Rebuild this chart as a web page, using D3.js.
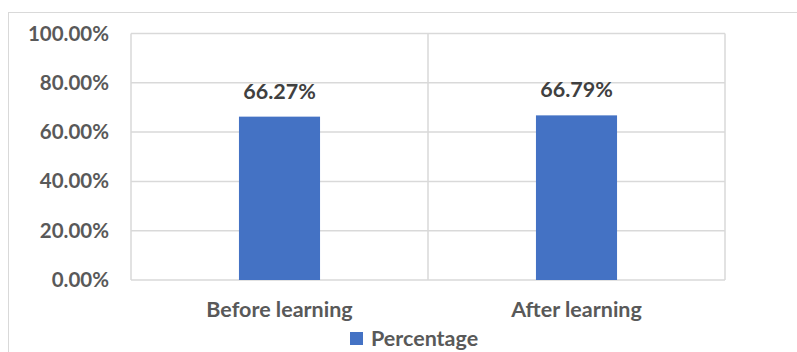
<!DOCTYPE html>
<html>
<head>
<meta charset="utf-8">
<script src="https://cdn.jsdelivr.net/npm/d3@7"></script>
<style>
  body { margin: 0; background: #fff; }
  text { font-family: Lato, "Open Sans", sans-serif; font-weight: bold; }
</style>
</head>
<body>
<div id="chart"></div>
<script>
var categories = ["Before learning", "After learning"];
var percentages = [66.27, 66.79];
var yTicks = [0, 20, 40, 60, 80, 100];
var seriesName = "Percentage";

var width = 797, height = 352;
var margin = {top: 33.5, right: 72, bottom: 72, left: 131};

var svg = d3.select("#chart").append("svg")
    .attr("width", width)
    .attr("height", height);

// outer chart border
svg.append("rect")
    .attr("x", 8.5).attr("y", 12.5)
    .attr("width", width + 10).attr("height", height + 10)
    .attr("fill", "none")
    .attr("stroke", "#d9d9d9");

var x = d3.scaleBand()
    .domain(categories)
    .range([margin.left, width - margin.right]);

var y = d3.scaleLinear()
    .domain([0, 100])
    .range([height - margin.bottom, margin.top]);

// gridlines
svg.selectAll("line.grid")
    .data(yTicks)
    .enter()
    .append("line")
    .attr("class", "grid")
    .attr("x1", margin.left).attr("x2", width - margin.right)
    .attr("y1", d => y(d)).attr("y2", d => y(d))
    .attr("stroke", "#d9d9d9")
    .attr("stroke-width", 1.5);

// vertical lines at category edges
var edges = [margin.left, x(categories[1]), width - margin.right];
svg.selectAll("line.vgrid")
    .data(edges)
    .enter()
    .append("line")
    .attr("class", "vgrid")
    .attr("x1", d => d).attr("x2", d => d)
    .attr("y1", y(100)).attr("y2", y(0))
    .attr("stroke", "#d9d9d9")
    .attr("stroke-width", 1.5);

// y axis labels
var yAxis = d3.axisLeft(y)
    .tickValues(yTicks)
    .tickSize(0)
    .tickPadding(22)
    .tickFormat(d => d.toFixed(2) + "%");

svg.append("g")
    .attr("transform", `translate(${margin.left}, 0)`)
    .call(yAxis)
    .call(g => g.select(".domain").remove())
    .selectAll("text")
    .attr("fill", "#595959")
    .style("font-size", "20.5px");

// bars
var barW = x.bandwidth() * 0.273;
svg.selectAll("rect.bar")
    .data(percentages)
    .enter()
    .append("rect")
    .attr("class", "bar")
    .attr("x", (d, i) => x(categories[i]) + x.bandwidth() / 2 - barW / 2)
    .attr("width", barW)
    .attr("y", d => y(d))
    .attr("height", d => y(0) - y(d))
    .attr("fill", "#4472c4");

// value labels
svg.selectAll("text.valueLabel")
    .data(percentages)
    .enter()
    .append("text")
    .attr("class", "valueLabel")
    .attr("x", (d, i) => x(categories[i]) + x.bandwidth() / 2)
    .attr("y", d => y(d) - 18)
    .attr("text-anchor", "middle")
    .attr("fill", "#404040")
    .style("font-size", "21.5px")
    .text(d => d.toFixed(2) + "%");

// category labels
svg.selectAll("text.catLabel")
    .data(categories)
    .enter()
    .append("text")
    .attr("class", "catLabel")
    .attr("x", d => x(d) + x.bandwidth() / 2)
    .attr("y", 317)
    .attr("text-anchor", "middle")
    .attr("fill", "#595959")
    .style("font-size", "21.5px")
    .text(d => d);

// legend
var legend = svg.append("g").attr("transform", "translate(350, 332)");
legend.append("rect")
    .attr("width", 13).attr("height", 13)
    .attr("fill", "#4472c4");
legend.append("text")
    .attr("x", 21).attr("y", 13.5)
    .attr("fill", "#595959")
    .style("font-size", "21.5px")
    .text(seriesName);
</script>
</body>
</html>
